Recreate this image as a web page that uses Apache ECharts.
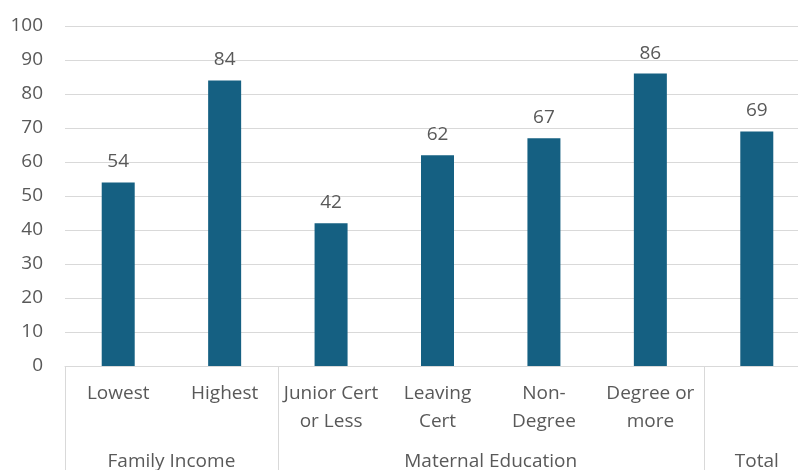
<!DOCTYPE html>
<html><head><meta charset="utf-8">
<script src="https://cdn.jsdelivr.net/npm/echarts@6/dist/echarts.min.js"></script>
<style>html,body{margin:0;padding:0;background:#fff}#c{width:798px;height:470px}</style>
</head><body><div id="c"></div>
<script>
const categories = ['Lowest','Highest','Junior Cert\nor Less','Leaving\nCert','Non-\nDegree','Degree or\nmore','Total'];
const values = [54,84,42,62,67,86,69];
const groups = ['Family Income','Maternal Education','Total'];
const groupSizes = [2,4,1];
const yTicks = [0,10,20,30,40,50,60,70,80,90,100];

const FONT = '"Open Sans", sans-serif';
const FS = 19;
const TXT = '#595959';
const chart = echarts.init(document.getElementById('c'), null, {renderer:'canvas'});
chart.setOption({
  animation:false,
  grid:{left:65, top:26, width:745, bottom:104, containLabel:false, outerBoundsMode:'none'},
  xAxis:{type:'category', data:categories,
    axisLine:{lineStyle:{color:'#d9d9d9', width:1}},
    axisTick:{show:false},
    axisLabel:{color:TXT, fontSize:FS, fontFamily:FONT, margin:14, lineHeight:28, interval:0,
      formatter:(v, i) => (i === categories.length-1 ? '' : v)}},
  yAxis:{type:'value', min:yTicks[0], max:yTicks[yTicks.length-1], interval:10,
    axisLine:{show:false}, axisTick:{show:false},
    splitLine:{lineStyle:{color:'#d9d9d9', width:1}},
    axisLabel:{color:TXT, fontSize:FS, fontFamily:FONT, margin:22}},
  series:[{type:'bar', data:values, barWidth:33, itemStyle:{color:'#156082'},
    label:{show:true, position:'top', distance:11, color:TXT, fontSize:FS, fontFamily:FONT}}]
});

// group separators and labels, positioned from the axis scale
const gfx = [];
const half = (chart.convertToPixel({xAxisIndex:0}, 1) - chart.convertToPixel({xAxisIndex:0}, 0)) / 2;
const y0 = chart.convertToPixel({yAxisIndex:0}, 0);
let start = 0;
const boundaries = [start];
groups.forEach((g, i) => {
  const end = start + groupSizes[i];
  const left = chart.convertToPixel({xAxisIndex:0}, start) - half;
  const right = chart.convertToPixel({xAxisIndex:0}, end - 1) + half;
  gfx.push({type:'text', x:(left+right)/2, y:y0+96, style:{text:g, fill:TXT, font:FS+'px '+FONT, textAlign:'center', textVerticalAlign:'middle'}});
  boundaries.push(end);
  start = end;
});
boundaries.forEach(b => {
  const x = Math.round(chart.convertToPixel({xAxisIndex:0}, Math.min(b, categories.length-1)) + (b >= categories.length ? half : -half)) + 0.5;
  gfx.push({type:'line', shape:{x1:x, y1:y0, x2:x, y2:470}, style:{stroke:'#d9d9d9', lineWidth:1}});
});
chart.setOption({graphic:gfx});
</script></body></html>
